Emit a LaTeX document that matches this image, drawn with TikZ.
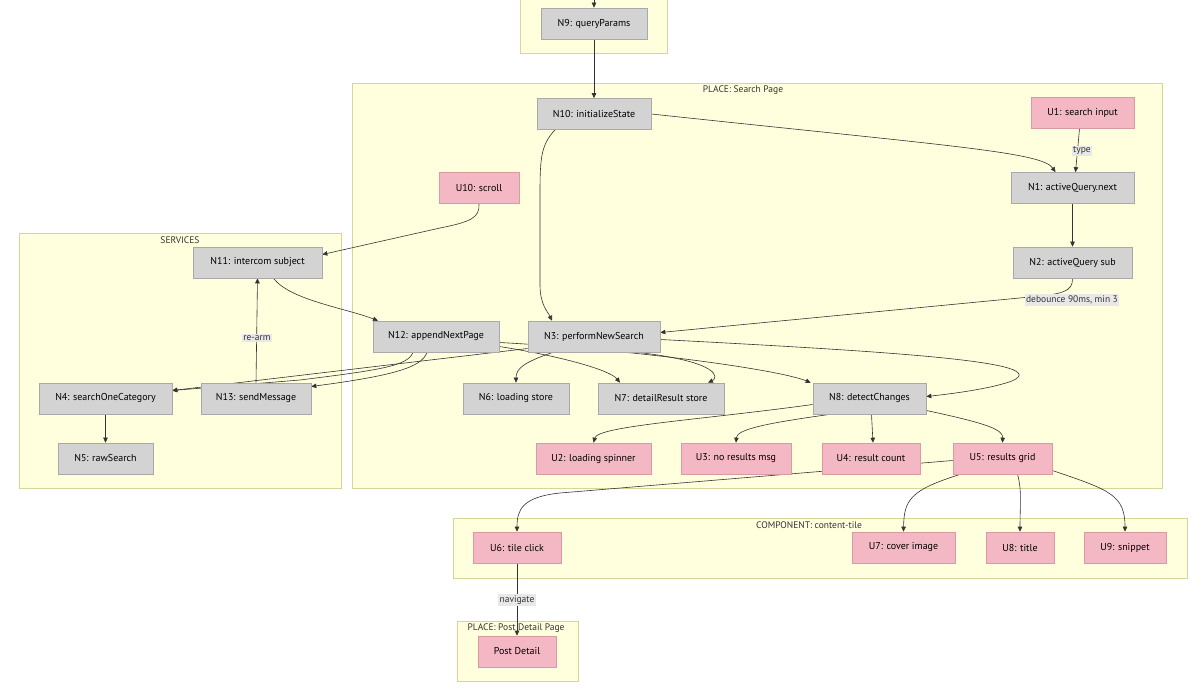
\documentclass[tikz,border=0pt]{standalone}
\usepackage{fontspec}
\setmainfont{PT Sans}
\usetikzlibrary{arrows.meta,calc}
\definecolor{gfill}{HTML}{D3D3D3}
\definecolor{gdraw}{HTML}{A9A9A9}
\definecolor{pfill}{HTML}{F4B8C4}
\definecolor{pdraw}{HTML}{D99AA6}
\definecolor{cfill}{HTML}{FFFFDE}
\definecolor{cdraw}{HTML}{D6D69A}
\definecolor{ecol}{HTML}{333333}
\definecolor{lfill}{HTML}{E8E8E8}
\pgfdeclarelayer{bg}
\pgfdeclarelayer{edges}
\pgfsetlayers{bg,edges,main}
\tikzset{
  basebox/.style={minimum height=31pt, inner sep=0pt, font=\fontsize{10}{12}\selectfont, line width=0.6pt},
  gn/.style={basebox, draw=gdraw, fill=gfill},
  un/.style={basebox, draw=pdraw, fill=pfill},
  clus/.style={draw=cdraw, fill=cfill, line width=0.8pt},
  ctitle/.style={font=\fontsize{9.5}{11}\selectfont, text=black!80, inner sep=0pt},
  arr/.style={draw=ecol, line width=0.6pt, -{Triangle[length=5pt,width=4.5pt]}},
  elab/.style={fill=lfill, inner sep=1.5pt, font=\fontsize{9.5}{11}\selectfont, text=black!80}
}
\begin{document}
\begin{tikzpicture}[x=1pt,y=-1pt]
\useasboundingbox (0,0) rectangle (1200,700);
% clusters
\begin{pgfonlayer}{bg}
\fill[white] (0,0) rectangle (1200,700);
\draw[clus] (520,-2) rectangle (667,53);
\draw[clus] (352,83) rectangle (1162,488);
\node[ctitle] (tSearch) at (743,90) {PLACE: Search Page};
\draw[clus] (19,233) rectangle (341,488);
\node[ctitle] (tServ) at (180,240) {SERVICES};
\draw[clus] (453,518) rectangle (1187,578);
\node[ctitle] (tComp) at (809,525) {COMPONENT: content-tile};
\draw[clus] (457,621) rectangle (578,681);
\node[ctitle] (tPost) at (516,628) {PLACE: Post Detail Page};
\end{pgfonlayer}
% nodes
\node[gn, minimum width=106pt] (N9) at (594,23.5) {N9: queryParams};
\node[gn, minimum width=114pt] (N10) at (594,114) {N10: initializeState};
\node[un, minimum width=103pt] (U1) at (1082.5,113) {U1: search input};
\node[un, minimum width=80pt] (U10) at (479,188) {U10: scroll};
\node[gn, minimum width=123pt] (N1) at (1072.5,188) {N1: activeQuery.next};
\node[gn, minimum width=119pt] (N2) at (1072.5,262.5) {N2: activeQuery sub};
\node[gn, minimum width=129pt] (N11) at (257.5,262.5) {N11: intercom subject};
\node[gn, minimum width=126pt] (N12) at (436,336.5) {N12: appendNextPage};
\node[gn, minimum width=132pt] (N3) at (594,336.5) {N3: performNewSearch};
\node[gn, minimum width=133pt] (N4) at (105.5,398.5) {N4: searchOneCategory};
\node[gn, minimum width=110pt] (N13) at (256,398.5) {N13: sendMessage};
\node[gn, minimum width=106pt] (N6) at (516,398.5) {N6: loading store};
\node[gn, minimum width=126pt] (N7) at (661,398.5) {N7: detailResult store};
\node[gn, minimum width=113pt] (N8) at (869.5,398.5) {N8: detectChanges};
\node[gn, minimum width=95pt] (N5) at (105.5,458.5) {N5: rawSearch};
\node[un, minimum width=115pt] (U2) at (593.5,458.5) {U2: loading spinner};
\node[un, minimum width=110pt] (U3) at (736,458.5) {U3: no results msg};
\node[un, minimum width=98pt] (U4) at (871,458.5) {U4: result count};
\node[un, minimum width=99pt] (U5) at (1002.5,458.5) {U5: results grid};
\node[un, minimum width=88pt] (U6) at (517,547.5) {U6: tile click};
\node[un, minimum width=103pt] (U7) at (903.5,547.5) {U7: cover image};
\node[un, minimum width=68pt] (U8) at (1020,547.5) {U8: title};
\node[un, minimum width=82pt] (U9) at (1125,547.5) {U9: snippet};
\node[un, minimum width=78pt] (PD) at (517,651.5) {Post Detail};
\coordinate (topin) at (594,-2);
% edges
\begin{pgfonlayer}{edges}
\draw[arr] (topin) -- (N9.north);
\draw[arr] (N9.south) -- (N10.north);
\draw[arr] (N10.east) .. controls (950,146) and (1042,152) .. ($(N1.north)+(-17,0)$);
\draw[arr] ($(N10.south)+(-39,0)$) .. controls (540,146) and (540,160) .. (540,200) -- (540,285) .. controls (540,305) and (548,312) .. ($(N3.north)+(-42,0)$);
\draw[arr] ($(U1.south)+(-3,0)$) -- ($(N1.north)+(3,0)$);
\draw[arr] (N1.south) -- (N2.north);
\draw[arr] (N2.south) .. controls (1073,292) and (1062,294) .. (1030,297) -- ($(N3.east)+(0,-4)$);
\draw[arr] (U10.south) .. controls (480,218) and (470,222) .. (440,228) -- ($(N11.east)+(0,-8)$);
\draw[arr] ($(N11.south)+(16,0)$) .. controls (290,300) and (345,308) .. ($(N12.north)+(-58,0)$);
\draw[arr] (N13.north) -- (N11.south);
\draw[arr] ($(N3.west)+(0,12)$) -- ($(N4.east)+(0,-8)$);
\draw[arr] ($(N12.south)+(-23,0)$) .. controls (408,366) and (380,370) .. (300,380) -- ($(N4.east)+(0,-8)$);
\draw[arr] ($(N12.south)+(-9,0)$) .. controls (422,368) and (390,376) .. ($(N13.east)+(0,-12)$);
\draw[arr] (N4.south) -- (N5.north);
\draw[arr] ($(N12.east)+(0,10)$) .. controls (560,356) and (610,370) .. ($(N7.north)+(-41,0)$);
\draw[arr] ($(N12.east)+(0,6)$) .. controls (640,350) and (780,370) .. ($(N8.north west)+(-2,0)$);
\draw[arr] ($(N3.south)+(-41,0)$) .. controls (525,362) and (516,368) .. ($(N6.north)$);
\draw[arr] ($(N3.south)+(43,0)$) .. controls (722,362) and (718,378) .. ($(N7.north)+(47,0)$);
\draw[arr] ($(N3.east)+(0,3)$) .. controls (900,352) and (1055,362) .. (1012,381) .. controls (990,389) and (950,394) .. ($(N8.east)+(0,-2)$);
\draw[arr] ($(N8.west)+(0,6)$) .. controls (700,420) and (598,426) .. (U2.north);
\draw[arr] ($(N8.south)+(-39,0)$) .. controls (760,424) and (737,430) .. (U3.north);
\draw[arr] ($(N8.south)+(2,0)$) -- ($(U4.north)+(2,0)$);
\draw[arr] ($(N8.east)+(0,12)$) .. controls (990,424) and (1003,430) .. (U5.north);
\draw[arr] ($(U5.west)+(0,2)$) -- (560,493) .. controls (522,497) and (517,510) .. (U6.north);
\draw[arr] ($(U5.south)+(-42,0)$) .. controls (910,490) and (904,500) .. (U7.north);
\draw[arr] ($(U5.south)+(15,0)$) .. controls (1022,490) and (1020,505) .. (U8.north);
\draw[arr] ($(U5.east)+(0,12)$) .. controls (1110,490) and (1125,495) .. (U9.north);
\draw[arr] (U6.south) -- (PD.north);
\end{pgfonlayer}
% edge labels
\node[elab] (ltype) at (1082,151) {type};
\node[elab] (ldeb) at (1072,300) {debounce 90ms, min 3};
\node[elab] (lrearm) at (257,338) {re-arm};
\node[elab] (lnav) at (517,600) {navigate};
\end{tikzpicture}
\end{document}
